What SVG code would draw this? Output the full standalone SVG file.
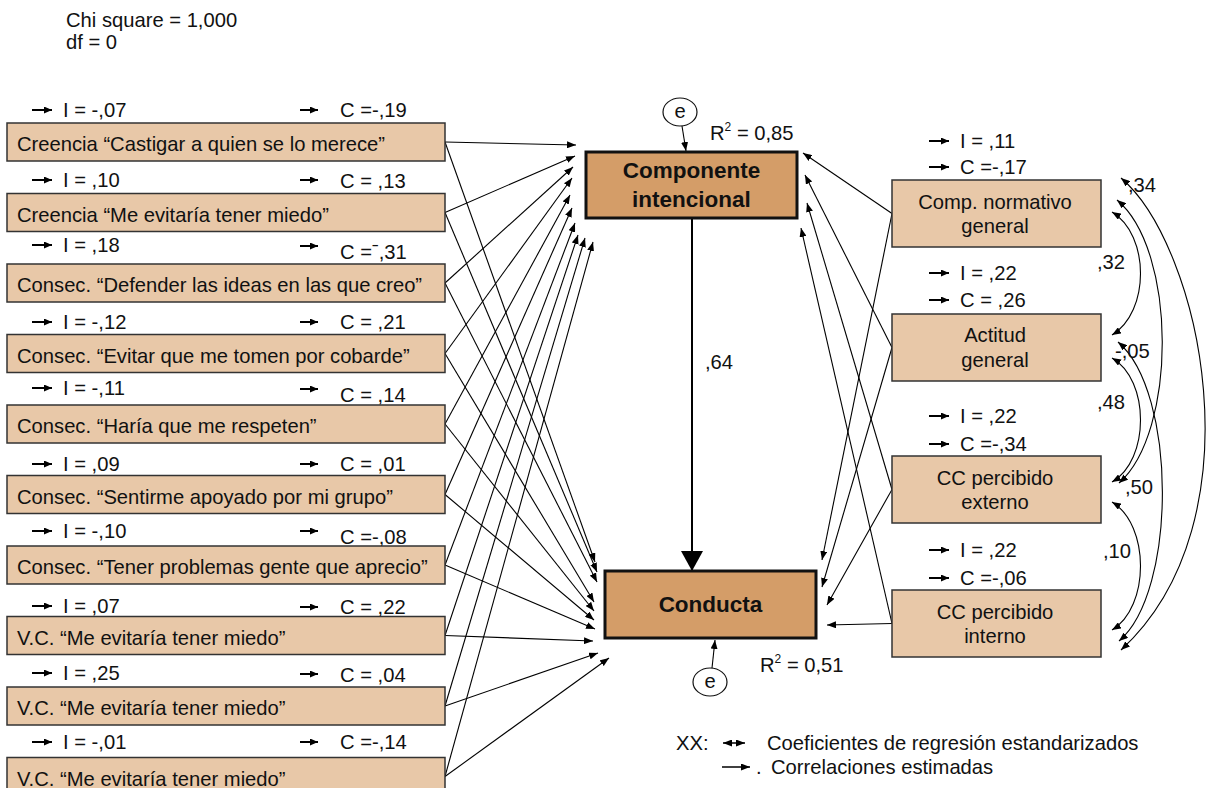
<svg xmlns="http://www.w3.org/2000/svg" width="1211" height="788" viewBox="0 0 1211 788">
<defs>
<marker id="ah" markerUnits="userSpaceOnUse" markerWidth="9" markerHeight="7" refX="9" refY="3.5" orient="auto-start-reverse"><path d="M0,0 L9,3.5 L0,7 z" fill="#000"/></marker>
<marker id="sa" markerUnits="userSpaceOnUse" markerWidth="8" markerHeight="7" refX="8" refY="3.5" orient="auto-start-reverse"><path d="M0,0 L8,3.5 L0,7 z" fill="#000"/></marker>
<marker id="big" markerUnits="userSpaceOnUse" markerWidth="22" markerHeight="22" refX="20" refY="11" orient="auto"><path d="M0,0 L20,11 L0,22 z" fill="#000"/></marker>
</defs>
<style>
text{font-family:"Liberation Sans",Arial,Helvetica,sans-serif;font-size:20.2px;fill:#111}
.lb{fill:#E8C8A8;stroke:#333;stroke-width:1.5}
.cb{fill:#D49D68;stroke:#111;stroke-width:3}
.b{font-weight:bold;font-size:22.5px}
.c{stroke:#000;stroke-width:1.1;fill:none;marker-end:url(#ah)}
.d{marker-start:url(#ah)}
.m{text-anchor:middle}
.el{fill:#fff;stroke:#111;stroke-width:1.2}
.ar{stroke:#000;stroke-width:2;marker-end:url(#sa)}
</style>

<g id="header">
<text x="66" y="27">Chi square = 1,000</text>
<text x="66" y="49">df = 0</text>
</g>

<g id="connectors">
<line class="c" x1="445" y1="142" x2="576" y2="145"/>
<line class="c" x1="445" y1="212.5" x2="575" y2="156"/>
<line class="c" x1="445" y1="283" x2="573" y2="167"/>
<line class="c" x1="445" y1="353.5" x2="572" y2="178"/>
<line class="c" x1="445" y1="424" x2="570" y2="195"/>
<line class="c" x1="445" y1="494.5" x2="572" y2="208"/>
<line class="c" x1="445" y1="565" x2="575" y2="223"/>
<line class="c" x1="445" y1="635.5" x2="578" y2="235"/>
<line class="c" x1="445" y1="706" x2="585" y2="238"/>
<line class="c" x1="445" y1="776.5" x2="593" y2="242"/>
<line class="c" x1="445" y1="142" x2="595" y2="562"/>
<line class="c" x1="445" y1="212.5" x2="597" y2="572"/>
<line class="c" x1="445" y1="283" x2="597" y2="582"/>
<line class="c" x1="445" y1="353.5" x2="594" y2="602"/>
<line class="c" x1="445" y1="424" x2="594" y2="611"/>
<line class="c" x1="445" y1="494.5" x2="594" y2="620"/>
<line class="c" x1="445" y1="565" x2="595" y2="629"/>
<line class="c" x1="445" y1="635.5" x2="593" y2="641"/>
<line class="c" x1="445" y1="706" x2="598" y2="653"/>
<line class="c" x1="445" y1="776.5" x2="609" y2="658"/>
<line class="c" x1="892" y1="213.5" x2="803" y2="153"/>
<line class="c" x1="892" y1="347.5" x2="805" y2="175"/>
<line class="c" x1="892" y1="489.5" x2="807" y2="203"/>
<line class="c" x1="892" y1="623.5" x2="801" y2="228"/>
<line class="c" x1="892" y1="213.5" x2="822" y2="560"/>
<line class="c" x1="892" y1="347.5" x2="822" y2="587"/>
<line class="c" x1="892" y1="489.5" x2="827" y2="605"/>
<line class="c" x1="892" y1="623.5" x2="827" y2="625"/>
<line x1="692" y1="218" x2="692" y2="571" stroke="#000" stroke-width="2" marker-end="url(#big)"/>
<line class="c" x1="682" y1="126" x2="686" y2="151"/>
<line class="c" x1="712" y1="668" x2="715" y2="640"/>
<path class="c d" d="M1112,212 C1150,235 1150,312 1112,335"/>
<path class="c d" d="M1112,358 C1150,380 1150,460 1112,482"/>
<path class="c d" d="M1112,502 C1150,525 1150,607 1112,630"/>
<path class="c d" d="M1117,200 C1177,250 1177,432 1119,483"/>
<path class="c d" d="M1118,342 C1177,392 1177,592 1119,641"/>
<path class="c d" d="M1121,178 C1200,245 1262,520 1121,650"/>
<text x="705" y="369">,64</text>
<text x="1128" y="192">,34</text>
<text x="1097" y="269">,32</text>
<text x="1115" y="358">-,05</text>
<text x="1097" y="409">,48</text>
<text x="1125" y="494">,50</text>
<text x="1103" y="558">,10</text>
</g>

<g id="componente">
<rect class="cb" x="586" y="152" width="211" height="66"/>
<text class="b m" x="691.5" y="178">Componente</text>
<text class="b m" x="691.5" y="207">intencional</text>
<ellipse class="el" cx="680" cy="112" rx="17" ry="14"/>
<text class="m" x="680" y="118">e</text>
<text x="710" y="140">R<tspan font-size="12" dy="-9">2</tspan><tspan dy="9"> = 0,85</tspan></text>
</g>

<g id="conducta">
<rect class="cb" x="605" y="571" width="211" height="67"/>
<text class="b m" x="710.5" y="612">Conducta</text>
<ellipse class="el" cx="710" cy="682" rx="17" ry="14"/>
<text class="m" x="710" y="688">e</text>
<text x="760" y="672">R<tspan font-size="12" dy="-9">2</tspan><tspan dy="9"> = 0,51</tspan></text>
</g>

<g id="left1">
<line class="ar" x1="32" y1="110" x2="52" y2="110"/><text x="63" y="117">I = -,07</text>
<line class="ar" x1="300" y1="110" x2="318" y2="110"/><text x="340" y="117">C =-,19</text>
<rect class="lb" x="7" y="123" width="438" height="38"/>
<text x="17" y="151">Creencia “Castigar a quien se lo merece”</text>
</g>
<g id="left2">
<line class="ar" x1="32" y1="180" x2="52" y2="180"/><text x="63" y="187">I = ,10</text>
<line class="ar" x1="300" y1="180" x2="318" y2="180"/><text x="340" y="188">C = ,13</text>
<rect class="lb" x="7" y="193.5" width="438" height="38"/>
<text x="17" y="221.5">Creencia “Me evitaría tener miedo”</text>
</g>
<g id="left3">
<line class="ar" x1="32" y1="245" x2="52" y2="245"/><text x="63" y="252">I = ,18</text>
<line class="ar" x1="300" y1="246" x2="318" y2="246"/><text x="340" y="259">C =ˉ,31</text>
<rect class="lb" x="7" y="264" width="438" height="38"/>
<text x="17" y="292">Consec. “Defender las ideas en las que creo”</text>
</g>
<g id="left4">
<line class="ar" x1="32" y1="322" x2="52" y2="322"/><text x="63" y="329">I = -,12</text>
<line class="ar" x1="300" y1="322" x2="318" y2="322"/><text x="340" y="329">C = ,21</text>
<rect class="lb" x="7" y="334.5" width="438" height="38"/>
<text x="17" y="362.5">Consec. “Evitar que me tomen por cobarde”</text>
</g>
<g id="left5">
<line class="ar" x1="32" y1="388" x2="52" y2="388"/><text x="63" y="395">I = -,11</text>
<line class="ar" x1="300" y1="389" x2="318" y2="389"/><text x="340" y="402">C = ,14</text>
<rect class="lb" x="7" y="405" width="438" height="38"/>
<text x="17" y="433">Consec. “Haría que me respeten”</text>
</g>
<g id="left6">
<line class="ar" x1="32" y1="464" x2="52" y2="464"/><text x="63" y="471">I = ,09</text>
<line class="ar" x1="300" y1="464" x2="318" y2="464"/><text x="340" y="471">C = ,01</text>
<rect class="lb" x="7" y="475.5" width="438" height="38"/>
<text x="17" y="503.5">Consec. “Sentirme apoyado por mi grupo”</text>
</g>
<g id="left7">
<line class="ar" x1="32" y1="531" x2="52" y2="531"/><text x="63" y="538">I = -,10</text>
<line class="ar" x1="300" y1="531" x2="318" y2="531"/><text x="340" y="544">C =-,08</text>
<rect class="lb" x="7" y="546" width="438" height="38"/>
<text x="17" y="574">Consec. “Tener problemas gente que aprecio”</text>
</g>
<g id="left8">
<line class="ar" x1="32" y1="606" x2="52" y2="606"/><text x="63" y="613">I = ,07</text>
<line class="ar" x1="300" y1="607" x2="318" y2="607"/><text x="340" y="614">C = ,22</text>
<rect class="lb" x="7" y="616.5" width="438" height="38"/>
<text x="17" y="644.5">V.C. “Me evitaría tener miedo”</text>
</g>
<g id="left9">
<line class="ar" x1="32" y1="673" x2="52" y2="673"/><text x="63" y="680">I = ,25</text>
<line class="ar" x1="300" y1="674" x2="318" y2="674"/><text x="340" y="682">C = ,04</text>
<rect class="lb" x="7" y="687" width="438" height="38"/>
<text x="17" y="715">V.C. “Me evitaría tener miedo”</text>
</g>
<g id="left10">
<line class="ar" x1="32" y1="742" x2="52" y2="742"/><text x="63" y="749">I = -,01</text>
<line class="ar" x1="300" y1="742" x2="318" y2="742"/><text x="340" y="749">C =-,14</text>
<rect class="lb" x="7" y="757.5" width="438" height="38"/>
<text x="17" y="785.5">V.C. “Me evitaría tener miedo”</text>
</g>

<g id="right1">
<line class="ar" x1="929" y1="141" x2="949" y2="141"/><text x="960" y="148">I = ,11</text>
<line class="ar" x1="929" y1="167" x2="949" y2="167"/><text x="960" y="174">C =-,17</text>
<rect class="lb" x="892" y="180" width="209" height="67"/>
<text class="m" x="995" y="209">Comp. normativo</text>
<text class="m" x="995" y="233">general</text>
</g>
<g id="right2">
<line class="ar" x1="929" y1="273" x2="949" y2="273"/><text x="960" y="280">I = ,22</text>
<line class="ar" x1="929" y1="300" x2="949" y2="300"/><text x="960" y="307">C = ,26</text>
<rect class="lb" x="892" y="314" width="209" height="67"/>
<text class="m" x="995" y="342">Actitud</text>
<text class="m" x="995" y="367">general</text>
</g>
<g id="right3">
<line class="ar" x1="929" y1="416" x2="949" y2="416"/><text x="960" y="423">I = ,22</text>
<line class="ar" x1="929" y1="444" x2="949" y2="444"/><text x="960" y="451">C =-,34</text>
<rect class="lb" x="892" y="456" width="209" height="67"/>
<text class="m" x="995" y="485">CC percibido</text>
<text class="m" x="995" y="509">externo</text>
</g>
<g id="right4">
<line class="ar" x1="929" y1="550" x2="949" y2="550"/><text x="960" y="557">I = ,22</text>
<line class="ar" x1="929" y1="578" x2="949" y2="578"/><text x="960" y="585">C =-,06</text>
<rect class="lb" x="892" y="590" width="209" height="67"/>
<text class="m" x="995" y="619">CC percibido</text>
<text class="m" x="995" y="643">interno</text>
</g>

<g id="legend">
<text x="676" y="750">XX:</text>
<line x1="723" y1="743" x2="745" y2="743" stroke="#000" stroke-width="1.5" marker-start="url(#ah)" marker-end="url(#ah)"/>
<text x="767" y="750">Coeficientes de regresión estandarizados</text>
<line x1="722" y1="767" x2="750" y2="767" stroke="#000" stroke-width="1.5" marker-end="url(#ah)"/>
<text x="756" y="774">.</text>
<text x="771" y="774">Correlaciones estimadas</text>
</g>
</svg>
